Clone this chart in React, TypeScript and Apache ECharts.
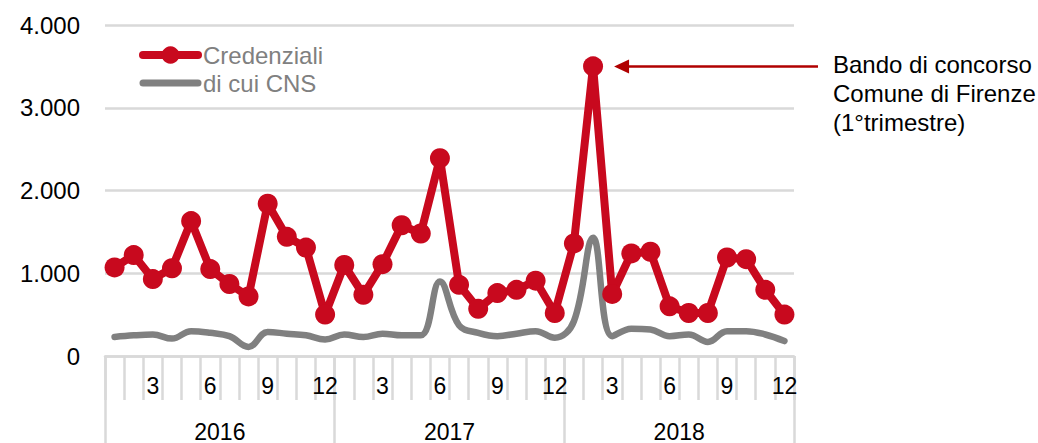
import React, { useEffect, useRef } from 'react';
import * as echarts from 'echarts';

const years = ['2016', '2017', '2018'];
const monthNumbers = [1, 2, 3, 4, 5, 6, 7, 8, 9, 10, 11, 12];
const credenziali = [
  1070, 1220, 930, 1060, 1630, 1050, 870, 720, 1840, 1440, 1310, 500,
  1100, 740, 1110, 1580, 1480, 2390, 860, 570, 760, 800, 910, 520,
  1360, 3500, 750, 1240, 1260, 600, 520, 520, 1190, 1170, 800, 500,
];
const cns = [
  230, 250, 260, 210, 300, 280, 240, 110, 290, 270, 250, 200,
  260, 230, 270, 250, 250, 900, 370, 280, 240, 270, 300, 220,
  420, 1430, 240, 330, 320, 240, 260, 170, 300, 300, 260, 180,
];
const seriesNames = ['Credenziali', 'di cui CNS'];
const annotationLines = ['Bando di concorso', 'Comune di Firenze', '(1°trimestre)'];
const peakIndex = 25;

const categories = years.flatMap((y) => monthNumbers.map((m) => `${m}/${y}`));

const FONT = '"Liberation Sans", Arial, sans-serif';
const RED = '#c8091e';
const GRAY = '#808080';
const GRID = '#d9d9d9';
const ARROW = '#b00000';

export default function App() {
  const ref = useRef<HTMLDivElement>(null);
  useEffect(() => {
    const chart = echarts.init(ref.current!, null, { renderer: 'svg' });
    chart.setOption({
      animation: false,
      textStyle: { fontFamily: FONT },
      grid: { left: 105, right: 244, top: 25, bottom: 81 },
      legend: {
        orient: 'vertical',
        left: 134,
        top: 38,
        itemWidth: 55,
        itemHeight: 22,
        itemGap: 4,
        textStyle: { fontSize: 24, color: GRAY, fontFamily: FONT },
        data: [
          { name: seriesNames[0], lineStyle: { width: 8, cap: 'round', color: RED } },
          { name: seriesNames[1], itemStyle: { opacity: 0 }, lineStyle: { width: 7, cap: 'round', color: GRAY } },
        ],
      },
      xAxis: [
        {
          type: 'category',
          position: 'bottom',
          data: categories,
          boundaryGap: true,
          axisLine: { show: true, lineStyle: { color: GRID, width: 2.5 } },
          axisTick: { show: true, interval: 0, alignWithLabel: false, length: 44, lineStyle: { color: GRID, width: 2.5 } },
          axisLabel: {
            interval: 0,
            margin: 18,
            fontSize: 23,
            color: '#000',
            fontFamily: FONT,
            formatter: (v: string) => {
              const m = Number(v.split('/')[0]);
              return m % 3 === 0 ? String(m) : '';
            },
          },
        },
        {
          type: 'category',
          position: 'bottom',
          data: years,
          boundaryGap: true,
          axisLine: { show: false },
          axisTick: { show: true, interval: 0, length: 90, lineStyle: { color: GRID, width: 2.5 } },
          axisLabel: { margin: 64, fontSize: 23, color: '#000', fontFamily: FONT },
        },
      ],
      yAxis: {
        type: 'value',
        min: 0,
        max: 4000,
        interval: 1000,
        axisLine: { show: false },
        axisTick: { show: false },
        splitLine: { lineStyle: { color: GRID, width: 2.5 } },
        axisLabel: {
          fontSize: 24,
          color: '#000',
          margin: 25,
          fontFamily: FONT,
          formatter: (v: number) => v.toLocaleString('de-DE'),
        },
      },
      series: [
        {
          name: seriesNames[1],
          type: 'line',
          data: cns,
          smooth: 0.4,
          symbol: 'none',
          lineStyle: { color: GRAY, width: 6.5, cap: 'round' },
          itemStyle: { color: GRAY },
        },
        {
          name: seriesNames[0],
          type: 'line',
          data: credenziali,
          symbol: 'circle',
          symbolSize: 20,
          lineStyle: { color: RED, width: 8, cap: 'round' },
          itemStyle: { color: RED },
        },
      ],
    });
    const p = chart.convertToPixel({ seriesIndex: 1 }, [peakIndex, credenziali[peakIndex]]) as number[];
    const px = p[0];
    const py = p[1];
    chart.setOption({
      graphic: [
        {
          type: 'line',
          shape: { x1: px + 34, y1: py, x2: 818, y2: py },
          style: { stroke: ARROW, lineWidth: 2.5 },
        },
        {
          type: 'polygon',
          shape: { points: [[px + 21, py], [px + 36, py - 7], [px + 36, py + 7]] },
          style: { fill: ARROW },
        },
        {
          type: 'text',
          x: 833,
          y: py - 16,
          style: {
            text: annotationLines.join('\n'),
            fontSize: 24,
            lineHeight: 29,
            fontFamily: FONT,
            fill: '#000',
          },
        },
      ],
    });
    return () => chart.dispose();
  }, []);
  return <div ref={ref} style={{ position: 'absolute', left: 0, top: 0, width: 1038, height: 443 }} />;
}
